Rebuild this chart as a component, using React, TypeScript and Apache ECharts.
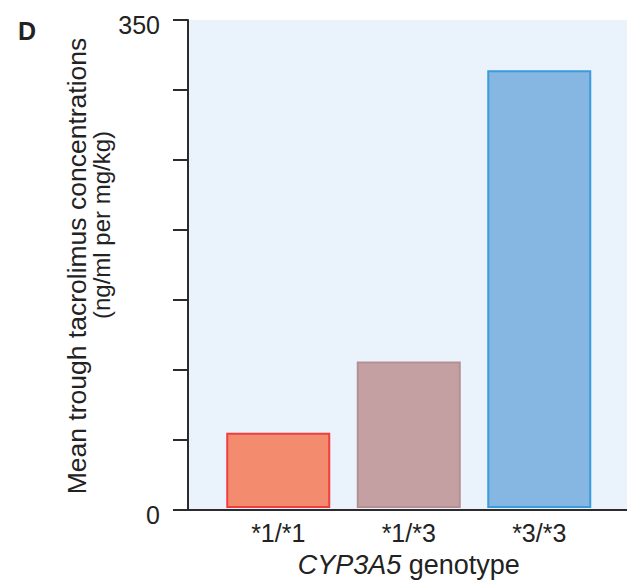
import React, { useEffect, useRef } from "react";
import * as echarts from "echarts";

const categories = ["*1/*1", "*1/*3", "*3/*3"];
const values = [54, 105, 314];
const fillColors = ["#F38C6F", "#C4A0A3", "#86B6E2"];
const borderColors = ["#EF3E3E", "#B48F93", "#3B9BDB"];
const yTickLabels = ["0", "350"];

const FONT = "'Liberation Sans', Arial, Helvetica, sans-serif";

export default function App() {
  const ref = useRef<HTMLDivElement>(null);
  useEffect(() => {
    if (!ref.current) return;
    const chart = echarts.init(ref.current, undefined, { renderer: "svg" });
    chart.setOption({
      animation: false,
      backgroundColor: "#ffffff",
      grid: [
        { left: 188, top: 20, width: 439, height: 490, show: true, backgroundColor: "#EAF2FB", borderWidth: 0 },
        { left: 213, top: 20, width: 391.5, height: 490 },
      ],
      xAxis: [
        {
          gridIndex: 0,
          type: "value",
          min: 0,
          max: 1,
          axisLine: { show: true, lineStyle: { color: "#2b2b2b", width: 2 } },
          axisTick: { show: false },
          axisLabel: { show: false },
          splitLine: { show: false },
        },
        {
          gridIndex: 1,
          type: "category",
          data: categories,
          axisLine: { show: false },
          axisTick: { show: false },
          axisLabel: { fontSize: 25, color: "#222", fontFamily: FONT, margin: 12 },
          name: "{i|CYP3A5} genotype",
          nameLocation: "middle",
          nameGap: 43,
          nameTextStyle: {
            fontSize: 27,
            color: "#222",
            fontFamily: FONT,
            rich: { i: { fontSize: 27, fontStyle: "italic", color: "#222", fontFamily: FONT } },
          },
        },
      ],
      yAxis: [
        {
          gridIndex: 0,
          type: "value",
          min: 0,
          max: 350,
          interval: 50,
          axisLine: { show: true, lineStyle: { color: "#2b2b2b", width: 2 } },
          axisTick: { show: true, inside: false, length: 15, lineStyle: { color: "#2b2b2b", width: 2 } },
          axisLabel: {
            color: "#222",
            margin: 28,
            formatter: (v: number) => (yTickLabels.includes(String(v)) ? "{a|" + v + "}" : ""),
            rich: { a: { fontSize: 25, color: "#222", fontFamily: FONT, padding: [9, 0, 0, 0] } },
          },
          splitLine: { show: false },
        },
        { gridIndex: 1, type: "value", min: 0, max: 350, show: false },
      ],
      graphic: [
        {
          type: "text",
          x: 27,
          y: 31,
          style: { text: "D", fontSize: 25, fontWeight: "bold", fill: "#222", fontFamily: FONT, textAlign: "center", textVerticalAlign: "middle" },
        },
        {
          type: "text",
          x: 77,
          y: 266,
          rotation: Math.PI / 2,
          style: { text: "Mean trough tacrolimus concentrations", fontSize: 26.5, fill: "#222", fontFamily: FONT, textAlign: "center", textVerticalAlign: "middle" },
        },
        {
          type: "text",
          x: 101,
          y: 225,
          rotation: Math.PI / 2,
          style: { text: "(ng/ml per mg/kg)", fontSize: 24, fill: "#222", fontFamily: FONT, textAlign: "center", textVerticalAlign: "middle" },
        },
      ],
      series: [
        {
          type: "bar",
          xAxisIndex: 1,
          yAxisIndex: 1,
          barWidth: 104,
          data: values.map((v, i) => ({
            value: v,
            itemStyle: { color: fillColors[i], borderColor: borderColors[i], borderWidth: 2 },
          })),
        },
      ],
    });
    return () => chart.dispose();
  }, []);
  return <div ref={ref} style={{ width: 627, height: 583, position: "absolute", left: 0, top: 0 }} />;
}
